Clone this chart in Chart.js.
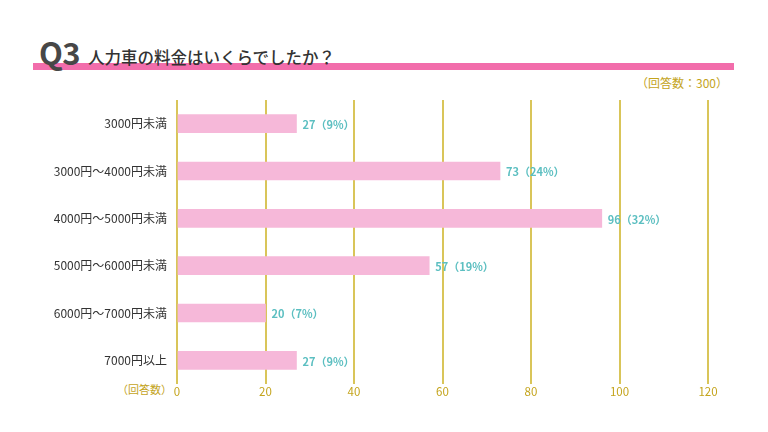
<!DOCTYPE html>
<html>
<head>
<meta charset="utf-8">
<script src="https://cdn.jsdelivr.net/npm/chart.js@4"></script>
<style>
  html, body { margin: 0; padding: 0; background: #fff; }
  body { width: 768px; height: 432px; position: relative; overflow: hidden;
         font-family: "Noto Sans CJK JP", "Noto Sans", sans-serif; }
  #wrap { position: absolute; left: 0; top: 0; width: 768px; height: 432px; }
  .rule { position: absolute; left: 33px; top: 63px; width: 701px; height: 7px; background: #f26dab; }
  .q { position: absolute; left: 39px; top: 33px; font-size: 31px; font-weight: 700; color: #474747;
       letter-spacing: -0.5px; line-height: 38px; }
  .title { position: absolute; left: 88px; top: 45px; font-size: 16.5px; font-weight: 500; color: #333;
           line-height: 24px; }
  .note { position: absolute; left: 636px; top: 75px; font-size: 12px; color: #c4a41c; line-height: 16px; }
  .axisname { position: absolute; left: 117px; top: 381px; font-size: 11px; color: #c4a41c; line-height: 16px; }
</style>
</head>
<body>
<div class="rule"></div>
<div class="q">Q3</div>
<div class="title">人力車の料金はいくらでしたか？</div>
<div class="note">（回答数：300）</div>
<div class="axisname">（回答数）</div>
<div id="wrap"><canvas id="chart" width="768" height="432"></canvas></div>
<script>
// answer categories
const categories = ['3000円未満', '3000円～4000円未満', '4000円～5000円未満', '5000円～6000円未満', '6000円～7000円未満', '7000円以上'];
// number of answers
const counts = [27, 73, 96, 57, 20, 27];
// share of total answers (%)
const shares = [9, 24, 32, 19, 7, 9];
// x axis ticks
const xTicks = [0, 20, 40, 60, 80, 100, 120];

const gold = '#d9c559';
const goldText = '#c4a41c';

const valueLabels = {
    id: 'valueLabels',
    afterDatasetsDraw(chart) {
        const ctx = chart.ctx;
        const meta = chart.getDatasetMeta(0);
        ctx.save();
        ctx.font = 'bold 11px "Noto Sans CJK JP", sans-serif';
        ctx.fillStyle = '#5cbfc1';
        ctx.textAlign = 'left';
        ctx.textBaseline = 'middle';
        meta.data.forEach((bar, i) => {
            ctx.fillText(counts[i] + '（' + shares[i] + '%）', bar.x + 6, bar.y + 1);
        });
        ctx.restore();
    }
};

new Chart(document.getElementById('chart').getContext('2d'), {
    type: 'bar',
    data: {
        labels: categories,
        datasets: [{
            data: counts,
            backgroundColor: '#f6b8d9',
            borderWidth: 0,
            barThickness: 18
        }]
    },
    options: {
        indexAxis: 'y',
        responsive: false,
        animation: false,
        layout: { padding: { top: 100, right: 60, bottom: 28, left: 0 } },
        plugins: { legend: { display: false }, tooltip: { enabled: false } },
        scales: {
            x: {
                min: 0,
                max: 120,
                afterBuildTicks: axis => { axis.ticks = xTicks.map(v => ({ value: v })); },
                afterFit: axis => { axis.height = 20; },
                grid: { color: gold, lineWidth: 2, drawTicks: false },
                border: { display: false },
                ticks: {
                    color: goldText,
                    padding: 1,
                    font: { family: '"Noto Sans CJK JP", sans-serif', size: 11.5 }
                }
            },
            y: {
                afterFit: axis => { axis.width = 177; },
                grid: { display: false },
                border: { display: false },
                ticks: {
                    color: '#333',
                    padding: 2,
                    font: { family: '"Noto Sans CJK JP", sans-serif', size: 12 }
                }
            }
        }
    },
    plugins: [valueLabels]
});
</script>
</body>
</html>
